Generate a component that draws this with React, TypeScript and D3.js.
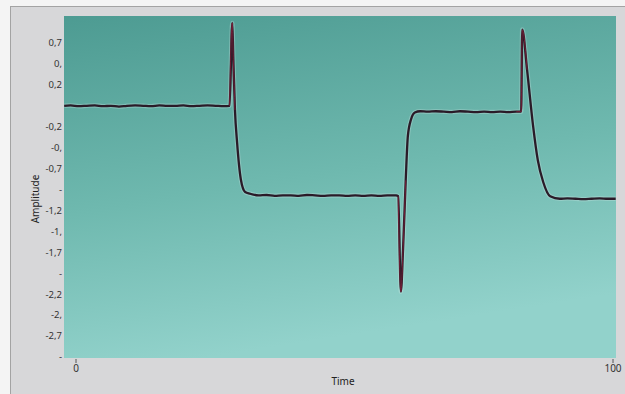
import React, { useEffect, useRef } from "react";
import * as d3 from "d3";

// values
const time = [
  -2.2, -1, 0.5, 2, 3.5, 5, 6.5, 8, 9.5, 11, 12.5, 14, 15.5, 17, 18.5, 20, 21.5, 23, 24.5, 26, 27.5, 28.6,
  29.1, 29.3, 29.6, 30.0, 30.7, 31.5, 32.4,
  34, 35.5, 37, 38.5, 40, 41.5, 43, 44.5, 46, 47.5, 49, 50.5, 52, 53.5, 55, 56.5, 58, 59.6, 60.0,
  60.5, 60.9, 61.4, 61.8, 62.4, 63.1, 64.1,
  65.5, 67, 68.5, 70, 71.5, 73, 74.5, 76, 77.5, 79, 80.5, 82, 82.9,
  83.1, 84.0, 85.1, 86.0, 87.0, 88.3, 90.1,
  91.5, 93, 94.5, 96, 97.5, 99, 100.5,
];
const amplitude = [
  0.0, 0.005, -0.005, 0.0, 0.005, -0.005, 0.0, -0.01, 0.0, 0.005, 0.0, -0.005, 0.005, 0.0, 0.0, 0.005, -0.005, 0.0, 0.005, 0.0, -0.005, 0.0,
  0.99, 0.55, -0.05, -0.44, -0.88, -1.03, -1.05,
  -1.07, -1.065, -1.075, -1.07, -1.07, -1.075, -1.065, -1.07, -1.075, -1.07, -1.07, -1.075, -1.07, -1.075, -1.07, -1.075, -1.07, -1.07, -1.08,
  -2.22, -1.72, -0.89, -0.36, -0.16, -0.08, -0.065,
  -0.07, -0.065, -0.07, -0.075, -0.065, -0.07, -0.075, -0.07, -0.075, -0.07, -0.075, -0.07, -0.07,
  0.91, 0.43, -0.23, -0.65, -0.91, -1.08, -1.11,
  -1.105, -1.11, -1.115, -1.11, -1.105, -1.11, -1.11,
];

// truncated tick labels as the chart shows them
const yTickValues = [0.75, 0.5, 0.25, 0, -0.25, -0.5, -0.75, -1, -1.25, -1.5, -1.75, -2, -2.25, -2.5, -2.75, -3];
const yTickLabels = ["0,7", "0,", "0,2", "", "-0,2", "-0,", "-0,7", "-", "-1,2", "-1,", "-1,7", "-", "-2,2", "-2,", "-2,7", "-"];
const xTickValues = [0, 100];
const xTickLabels = ["0", "100"];

const App = () => {
  const ref = useRef<SVGSVGElement>(null);

  useEffect(() => {
    if (!ref.current) return;
    const svg = d3.select(ref.current);
    svg.selectAll("*").remove();

    const width = 625;
    const height = 394;
    const plot = { left: 64, right: 616, top: 16, bottom: 358 };
    const font = "'Noto Sans', 'Open Sans', sans-serif";

    const x = d3.scaleLinear().domain([0, 100]).range([76, 613]);
    const y = d3.scaleLinear().domain([-3, 0.75]).range([357, 43]);

    // window frame
    svg.append("rect").attr("width", width).attr("height", height).attr("fill", "#f4f4f4");
    svg.append("rect")
      .attr("x", 10.5).attr("y", 6.5)
      .attr("width", width).attr("height", height)
      .attr("fill", "#d7d7d9").attr("stroke", "#a3a3a3");

    // plot background
    const defs = svg.append("defs");
    const grad = defs.append("linearGradient")
      .attr("id", "bg").attr("x1", "0").attr("y1", "0").attr("x2", "0.25").attr("y2", "1");
    grad.append("stop").attr("offset", "0%").attr("stop-color", "#4d9b92");
    grad.append("stop").attr("offset", "55%").attr("stop-color", "#6fb9af");
    grad.append("stop").attr("offset", "100%").attr("stop-color", "#92d2cb");
    defs.append("clipPath").attr("id", "clip")
      .append("rect")
      .attr("x", plot.left).attr("y", plot.top)
      .attr("width", plot.right - plot.left).attr("height", plot.bottom - plot.top);

    svg.append("rect")
      .attr("x", plot.left).attr("y", plot.top)
      .attr("width", plot.right - plot.left).attr("height", plot.bottom - plot.top)
      .attr("fill", "url(#bg)");

    // trace
    const pts: [number, number][] = time.map((t, i) => [t, amplitude[i]]);
    const line = d3.line<[number, number]>()
      .x((d) => x(d[0]))
      .y((d) => y(d[1]))
      .curve(d3.curveMonotoneX);

    const g = svg.append("g").attr("clip-path", "url(#clip)");
    g.append("path").attr("d", line(pts)).attr("fill", "none")
      .attr("stroke", "#cfe9e5").attr("stroke-opacity", 0.3).attr("stroke-width", 4.5)
      .attr("stroke-linejoin", "round");
    g.append("path").attr("d", line(pts)).attr("fill", "none")
      .attr("stroke", "#2a1b28").attr("stroke-width", 2.3)
      .attr("stroke-linejoin", "round");

    // reddish cores of the spikes
    const spikeIdx = [[21, 24], [47, 50], [66, 69]];
    spikeIdx.forEach(([a, b]) => {
      g.append("path").attr("d", line(pts.slice(a, b + 1))).attr("fill", "none")
        .attr("stroke", "#8a1f3a").attr("stroke-width", 0.9).attr("stroke-opacity", 0.8);
    });

    // y axis labels
    svg.append("g").selectAll("text")
      .data(yTickValues)
      .enter()
      .append("text")
      .attr("x", 62)
      .attr("y", (d) => y(d))
      .attr("dy", "0.35em")
      .attr("text-anchor", "end")
      .attr("font-family", font)
      .attr("font-size", 9.5)
      .attr("fill", "#333")
      .text((d, i) => yTickLabels[i]);

    // x axis ticks
    const xt = svg.append("g").selectAll("g")
      .data(xTickValues)
      .enter()
      .append("g")
      .attr("transform", (d) => `translate(${x(d)},0)`);
    xt.append("line").attr("y1", plot.bottom + 1).attr("y2", plot.bottom + 5)
      .attr("stroke", "#555").attr("stroke-width", 1);
    xt.append("text")
      .attr("y", 372)
      .attr("text-anchor", "middle")
      .attr("font-family", font)
      .attr("font-size", 10)
      .attr("fill", "#333")
      .text((d, i) => xTickLabels[i]);

    svg.append("text")
      .attr("x", 343).attr("y", 385)
      .attr("text-anchor", "middle")
      .attr("font-family", font).attr("font-size", 10).attr("fill", "#222")
      .text("Time");

    svg.append("text")
      .attr("transform", "translate(39,199) rotate(-90)")
      .attr("text-anchor", "middle")
      .attr("font-family", font).attr("font-size", 10).attr("fill", "#222")
      .text("Amplitude");
  }, []);

  return (
    <svg
      ref={ref}
      width="625"
      height="394"
      style={{ position: "absolute", left: 0, top: 0, display: "block" }}
    ></svg>
  );
};

export default App;
